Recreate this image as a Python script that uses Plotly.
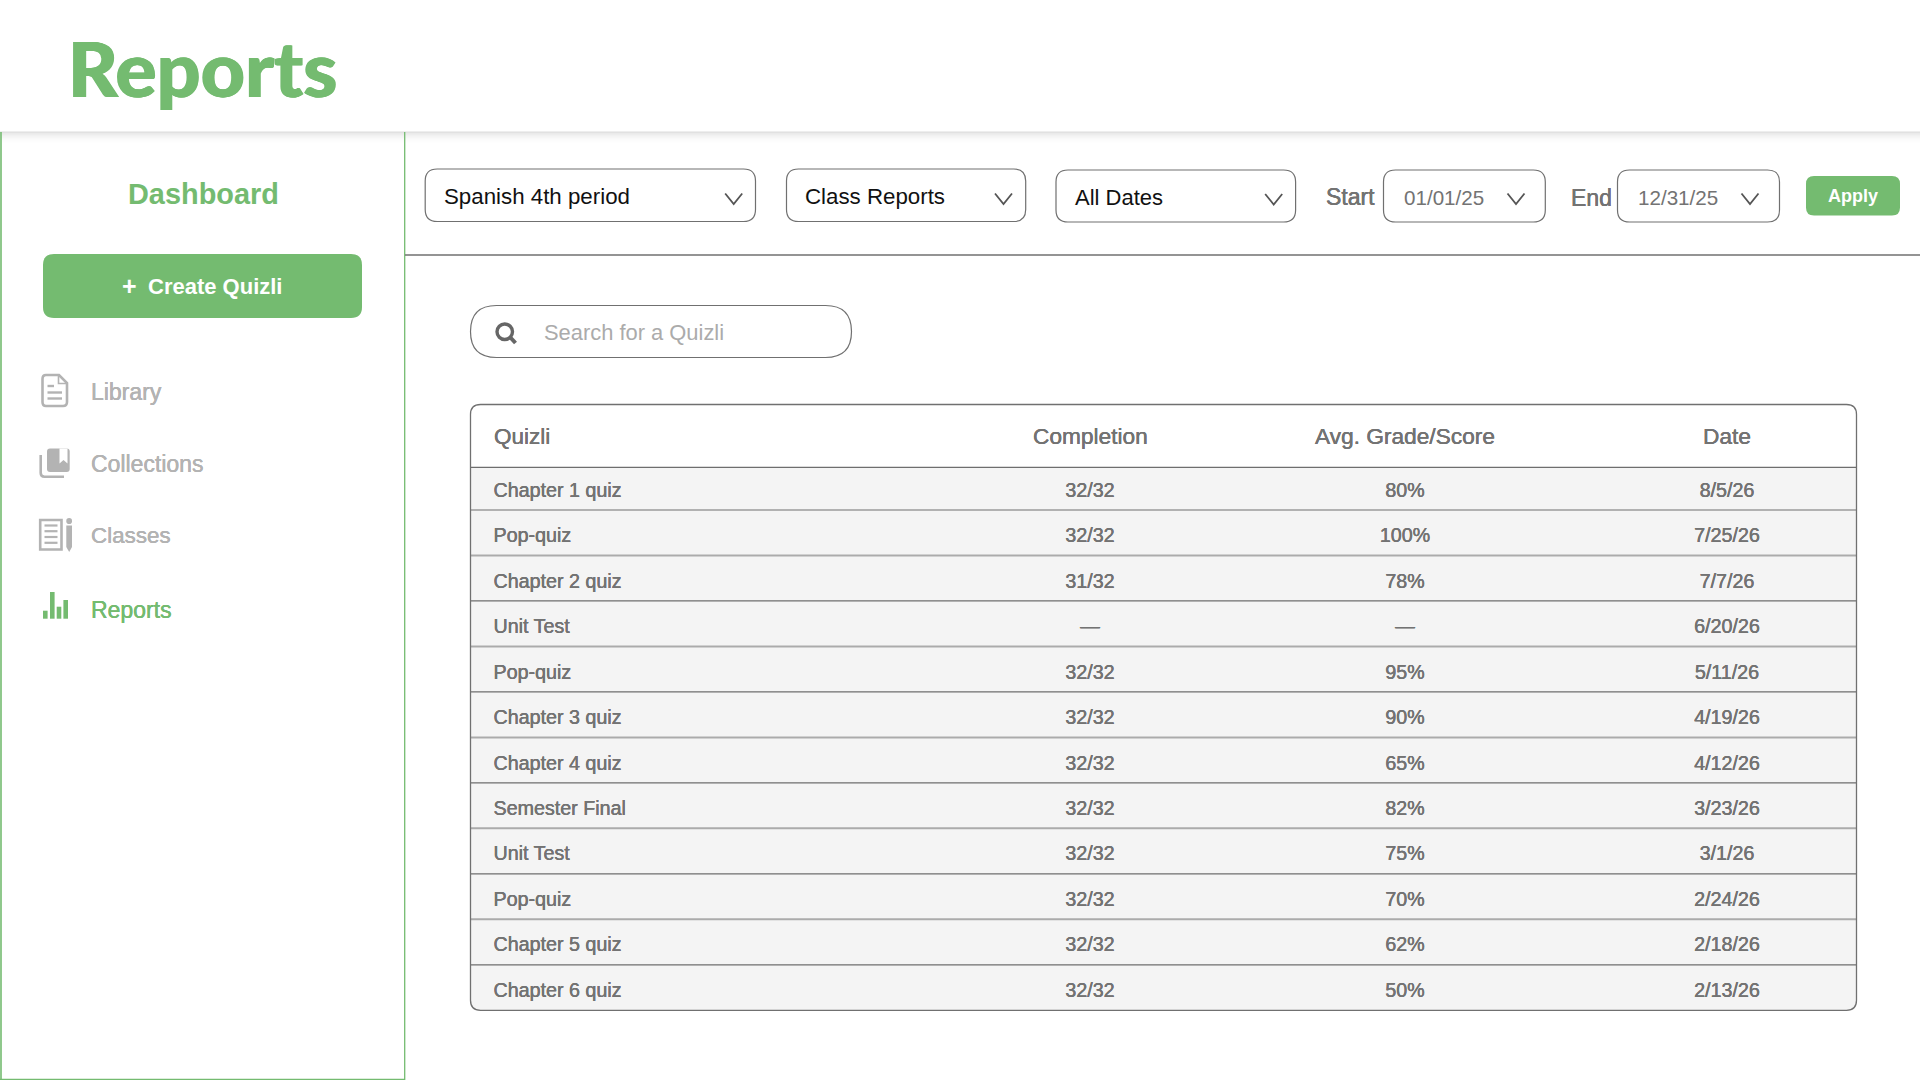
import plotly.graph_objects as go

# ---------- data ----------
quiz_names = ["Chapter 1 quiz", "Pop-quiz", "Chapter 2 quiz", "Unit Test", "Pop-quiz", "Chapter 3 quiz",
              "Chapter 4 quiz", "Semester Final", "Unit Test", "Pop-quiz", "Chapter 5 quiz", "Chapter 6 quiz"]
completion = ["32/32", "32/32", "31/32", "—", "32/32", "32/32", "32/32", "32/32", "32/32", "32/32", "32/32", "32/32"]
avg_grade = ["80%", "100%", "78%", "—", "95%", "90%", "65%", "82%", "75%", "70%", "62%", "50%"]
quiz_dates = ["8/5/26", "7/25/26", "7/7/26", "6/20/26", "5/11/26", "4/19/26", "4/12/26", "3/23/26",
              "3/1/26", "2/24/26", "2/18/26", "2/13/26"]
column_titles = ["Quizli", "Completion", "Avg. Grade/Score", "Date"]
nav_labels = ["Library", "Collections", "Classes", "Reports"]

# ---------- style ----------
GREEN = "#74BB70"
GREY_TXT = "#737373"
LINE = "#707070"
NAV = "#B3B3B3"
FONT = "Liberation Sans"
W, H = 1920, 1080
shapes = []
annots = []


def rr(x0, y0, x1, y1, r):
    return (f"M{x0+r},{y0} L{x1-r},{y0} Q{x1},{y0} {x1},{y0+r} L{x1},{y1-r} Q{x1},{y1} {x1-r},{y1} "
            f"L{x0+r},{y1} Q{x0},{y1} {x0},{y1-r} L{x0},{y0+r} Q{x0},{y0} {x0+r},{y0} Z")


def path(d, line=None, lw=1.3, fill=None):
    shapes.append(dict(type="path", path=d, xref="x", yref="y",
                       line=dict(color=line or "rgba(0,0,0,0)", width=lw if line else 0),
                       fillcolor=fill or "rgba(0,0,0,0)", layer="below"))


def hline(y, x0, x1, color=LINE, lw=1.3):
    shapes.append(dict(type="line", x0=x0, x1=x1, y0=y, y1=y, xref="x", yref="y",
                       line=dict(color=color, width=lw), layer="below"))


def vline(x, y0, y1, color=LINE, lw=1.3):
    shapes.append(dict(type="line", x0=x, x1=x, y0=y0, y1=y1, xref="x", yref="y",
                       line=dict(color=color, width=lw), layer="below"))


def rect(x0, y0, x1, y1, fill):
    shapes.append(dict(type="rect", x0=x0, x1=x1, y0=y0, y1=y1, xref="x", yref="y",
                       line=dict(width=0), fillcolor=fill, layer="below"))


def text(x, y, s, size, color, anchor="left", weight=400, family=FONT, thick=0.0):
    f = dict(family=family, size=size, color=color, weight=weight)
    if thick:
        f["shadow"] = f"{thick}px 0 0 {color}, -{thick}px 0 0 {color}"
    annots.append(dict(x=x, y=y, xref="x", yref="y", text=s, showarrow=False, xanchor=anchor, yanchor="middle",
                       align=anchor, font=f, borderpad=0, borderwidth=0))


def chevron(cx, cy):
    path(f"M{cx-8.5},{cy-5} L{cx},{cy+5.5} L{cx+8.5},{cy-5}", line="#555555", lw=1.8)


# header shadow
for i in range(12):
    rect(0, 132 + i, W, 133 + i, f"rgba(0,0,0,{0.10 * (1 - i / 12) ** 2:.3f})")
hline(132, 0, W, "#DDDDDD", 1)

# sidebar frame
vline(1, 132, 1080, GREEN, 1.6)
vline(404.7, 132, 1080, GREEN, 1.3)
hline(1079.4, 0, 405, GREEN, 1.3)
hline(255, 405, W, LINE, 1.3)

# top title and sidebar
text(68, 67, "Reports", 77, GREEN, weight=900, family="Lato", thick=0.7)
text(203, 194, "Dashboard", 28.9, GREEN, "center", 700)
path(rr(43, 254, 362, 318, 11), fill=GREEN)
text(129, 286, "+", 25, "#FFFFFF", "center", 700)
text(148, 286, "Create Quizli", 22, "#FFFFFF", weight=700)

# nav
nav_y = [391.5, 463.5, 535.5, 609.5]
nav_size = [23, 23, 22.4, 23]
for lab, y, s in zip(nav_labels, nav_y, nav_size):
    text(90.5, y, lab, s, GREEN if lab == "Reports" else NAV, thick=0.1)

# library icon
path("M46,375 L59,375 L67,383 L67,402 Q67,406 63,406 L46,406 Q42.5,406 42.5,402 L42.5,379 Q42.5,375 46,375 Z",
     line=NAV, lw=2.6)
path("M58.5,375 L58.5,383.5 L67,383.5", line=NAV, lw=1.6)
for y0, x1 in [(386, 54), (392.5, 62), (398.5, 62)]:
    hline(y0, 47.5, x1, NAV, 2.4)
# collections icon
path(rr(47, 448.5, 69.7, 472, 3), fill=NAV)
path("M59.5,448.5 L67.5,448.5 L67.5,463.5 L63.5,460 L59.5,463.5 Z", fill="#FFFFFF")
path("M40.7,455 L40.7,473 Q40.7,476.7 44.5,476.7 L64,476.7", line=NAV, lw=2.6)
# classes icon
path("M40.2,520 L61.5,520 L61.5,549.5 L40.2,549.5 Z", line=NAV, lw=2.6)
for y0 in [525.5, 531.2, 537, 542.8]:
    hline(y0, 44.5, 57.5, NAV, 2.2)
path(rr(66.3, 518, 72, 524, 2.8), fill=NAV)
path("M66.3,525.5 L72,525.5 L72,547 L69.2,552 L66.3,547 Z", fill=NAV)
# reports icon
for x0, top in [(43, 610.7), (50, 592), (56.7, 606.7), (63.4, 600)]:
    rect(x0, top, x0 + 4.6, 618.7, GREEN)

# filter bar
for x0, x1, y0, y1 in [(425.2, 755.5, 169, 221.5), (786.5, 1025.7, 169, 221.5), (1056, 1295.6, 170, 222),
                       (1383.5, 1545.3, 170, 222), (1617.5, 1779.5, 170, 222)]:
    path(rr(x0, y0, x1, y1, 12), line=LINE, lw=1.2, fill="#FFFFFF")
for cx, cy in [(733.7, 198.5), (1003.5, 198.5), (1273.7, 199), (1516, 198.5), (1750, 198.5)]:
    chevron(cx, cy)
text(443.5, 196.5, "Spanish 4th period", 22.3, "#111111")
text(804.5, 196.5, "Class Reports", 22.3, "#111111")
text(1074.7, 197.5, "All Dates", 22, "#111111")
text(1326, 197, "Start", 23, GREY_TXT, thick=0.15)
text(1571, 198, "End", 23, GREY_TXT, thick=0.15)
text(1404, 197, "01/01/25", 20.6, GREY_TXT)
text(1638, 197, "12/31/25", 20.6, GREY_TXT)
path(rr(1806, 176, 1900, 215.5, 8), fill=GREEN)
text(1853, 196, "Apply", 18, "#FFFFFF", "center", 700)

# search box
path(rr(470.5, 305.5, 851.5, 357.5, 26), line=LINE, lw=1.2, fill="#FFFFFF")
shapes.append(dict(type="circle", x0=497, x1=512.5, y0=324, y1=339.5, xref="x", yref="y",
                   line=dict(color="#666666", width=3.4), layer="below"))
path("M509.5,336.5 L515.5,343", line="#666666", lw=4)
text(543.7, 332.5, "Search for a Quizli", 21.9, "#ABABAB")

# table
T_L, T_R, T_T, T_H, T_B = 470.5, 1856.5, 404.5, 467.3, 1010.3
FIRST_ROW_END = 510
n_rows = len(quiz_names)
row_h = (T_B - FIRST_ROW_END) / (n_rows - 1)
path(f"M{T_L},{T_H} L{T_R},{T_H} L{T_R},{T_B-10} Q{T_R},{T_B} {T_R-10},{T_B} L{T_L+10},{T_B} "
     f"Q{T_L},{T_B} {T_L},{T_B-10} Z", fill="#F4F4F4")
hline(T_H, T_L, T_R, "#6E6E6E", 1.2)
for i in range(n_rows - 1):
    y = FIRST_ROW_END + i * row_h
    if i % 2 == 1 and i < 10:
        hline(y, T_L, T_R, "#ABABAB", 2)
    else:
        hline(y, T_L, T_R, "#6E6E6E", 1.2)
path(rr(T_L, T_T, T_R, T_B, 10), line=LINE, lw=1.3)

# table text through traces
row_y = [491.7 + i * row_h for i in range(n_rows)]
col_center = [1090, 1405, 1727]
TXT_SHADOW = f"0.08px 0 0 {GREY_TXT}, -0.08px 0 0 {GREY_TXT}"
cell_font = dict(family=FONT, size=19.7, color=GREY_TXT, shadow=TXT_SHADOW)
fig = go.Figure()
fig.add_trace(go.Scatter(x=[493.5] * n_rows, y=row_y, text=quiz_names, mode="text", textposition="middle right",
                         textfont=cell_font, hoverinfo="skip"))
for cx, vals in zip(col_center, [completion, avg_grade, quiz_dates]):
    fig.add_trace(go.Scatter(x=[cx] * n_rows, y=row_y, text=vals, mode="text", textposition="middle center",
                             textfont=cell_font, hoverinfo="skip"))
text(493.5, 436, column_titles[0], 22.5, GREY_TXT, thick=0.1)
for cx, title in zip(col_center, column_titles[1:]):
    text(cx, 436, title, 22.7, GREY_TXT, "center", thick=0.1)

fig.update_layout(
    width=W, height=H, margin=dict(l=0, r=0, t=0, b=0), paper_bgcolor="#FFFFFF", plot_bgcolor="#FFFFFF",
    showlegend=False, shapes=shapes, annotations=annots,
    xaxis=dict(range=[0, W], visible=False, fixedrange=True),
    yaxis=dict(range=[H, 0], visible=False, fixedrange=True),
)
fig.write_html("out.html", config=dict(displayModeBar=False),
               post_script="document.body.style.margin='0';document.body.style.overflow='hidden';")
